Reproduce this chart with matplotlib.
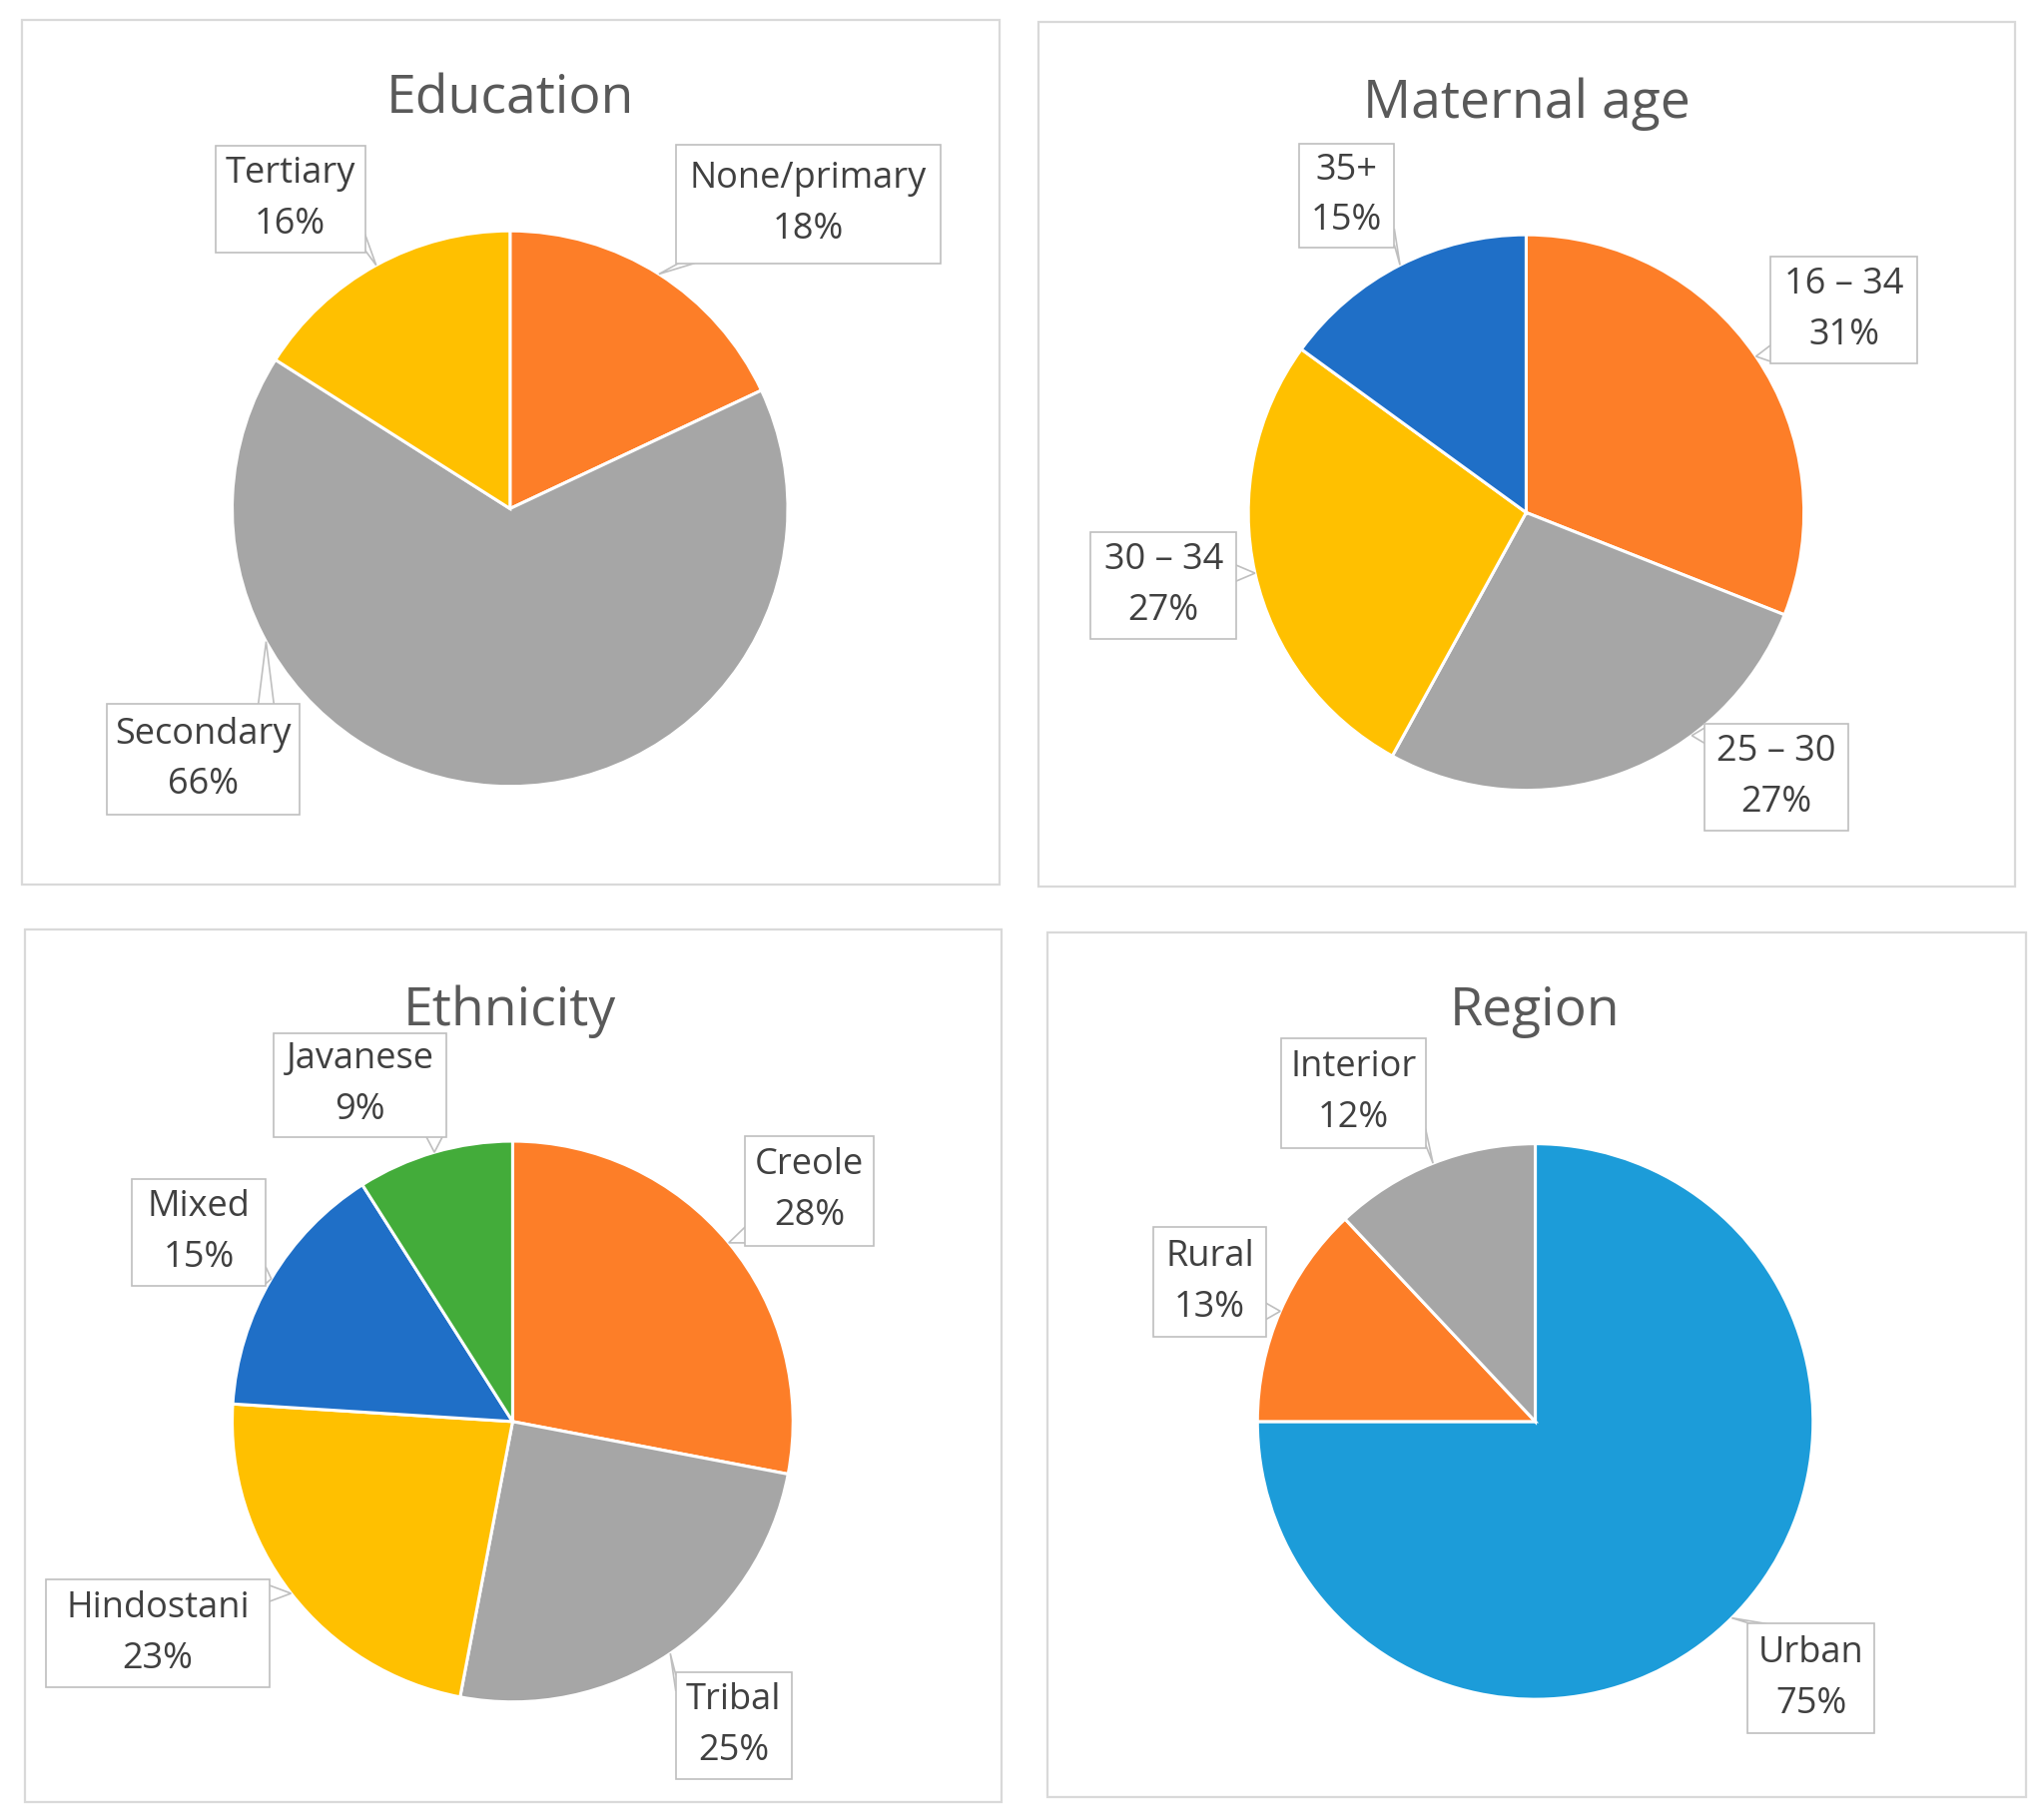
import matplotlib
matplotlib.use("Agg")
import matplotlib.pyplot as plt
from matplotlib.patches import Rectangle
import numpy as np

plt.rcParams["font.family"] = ["Open Sans", "DejaVu Sans"]

# data
edu_labels = ["None/primary", "Secondary", "Tertiary"]
edu_values = [18, 66, 16]
age_labels = ["16 \u2013 34", "25 \u2013 30", "30 \u2013 34", "35+"]
age_values = [31, 27, 27, 15]
eth_labels = ["Creole", "Tribal", "Hindostani", "Mixed", "Javanese"]
eth_values = [28, 25, 23, 15, 9]
reg_labels = ["Urban", "Rural", "Interior"]
reg_values = [75, 13, 12]

ORANGE = "#FD7E28"
GRAY = "#A6A6A6"
YELLOW = "#FFC000"
BLUE = "#1F6FC7"
GREEN = "#43AC3A"
SKY = "#1C9CD9"

# layout in reference units (y down)
W = 1567.0
H = 1822 * W / 2047


def fy(y):
    return H - y


panels = [
    dict(title="Education", labels=edu_labels, values=edu_values,
         colors=[ORANGE, GRAY, YELLOW],
         frame=(17, 15, 766, 678), title_pos=(391, 87),
         center=(391, 390), r=213,
         boxes=[(518, 111, 721, 202), (82, 540, 230, 625), (165, 112, 280, 194)],
         tip_angle={1: 208.6}),
    dict(title="Maternal age", labels=age_labels, values=age_values,
         colors=[ORANGE, GRAY, YELLOW, BLUE],
         frame=(796, 17, 1545, 680), title_pos=(1170, 90),
         center=(1170, 393), r=213,
         boxes=[(1357, 197, 1470, 279), (1307, 555, 1417, 637),
                (836, 408, 948, 490), (996, 110, 1069, 190)],
         tip_angle={1: -53.4}),
    dict(title="Ethnicity", labels=eth_labels, values=eth_values,
         colors=[ORANGE, GRAY, YELLOW, BLUE, GREEN],
         frame=(19, 713, 768, 1382), title_pos=(391, 786),
         center=(393, 1090), r=215,
         boxes=[(571, 871, 670, 955), (518, 1282, 607, 1364),
                (35, 1211, 207, 1294), (101, 904, 204, 986),
                (210, 792, 342, 872)],
         tip_angle={}),
    dict(title="Region", labels=reg_labels, values=reg_values,
         colors=[SKY, ORANGE, GRAY],
         frame=(803, 715, 1553, 1378), title_pos=(1177, 786),
         center=(1177, 1090), r=213,
         boxes=[(1340, 1245, 1437, 1329), (884, 941, 971, 1025),
                (982, 796, 1093, 880)],
         tip_angle={}),
]


def pointer(ax, box, tip):
    x0, y0, x1, y1 = box[0], fy(box[3]), box[2], fy(box[1])
    tx, ty = tip
    px = min(max(tx, x0), x1)
    py = min(max(ty, y0), y1)
    # pick the nearest side
    d = {"l": abs(tx - x0), "r": abs(tx - x1), "b": abs(ty - y0), "t": abs(ty - y1)}
    inside_x = x0 <= tx <= x1
    inside_y = y0 <= ty <= y1
    if inside_x and not inside_y:
        side = "b" if ty < y0 else "t"
    elif inside_y and not inside_x:
        side = "l" if tx < x0 else "r"
    else:
        side = min(d, key=d.get)
    hw = 6
    if side in ("b", "t"):
        yy = y0 if side == "b" else y1
        cx = min(max(px, x0 + hw + 2), x1 - hw - 2)
        b1, b2 = (cx - hw, yy), (cx + hw, yy)
    else:
        xx = x0 if side == "l" else x1
        cy = min(max(py, y0 + hw + 2), y1 - hw - 2)
        b1, b2 = (xx, cy - hw), (xx, cy + hw)
    ax.plot([b1[0], tx, b2[0]], [b1[1], ty, b2[1]], color="#BFBFBF",
            lw=1.2, zorder=4, solid_joinstyle="miter")


fig = plt.figure(figsize=(20.47, 18.22), dpi=100)
ax = fig.add_axes([0, 0, 1, 1])

for p in panels:
    fx0, fy0, fx1, fy1 = p["frame"]
    ax.add_patch(Rectangle((fx0, fy(fy1)), fx1 - fx0, fy1 - fy0, fill=False,
                           ec="#D9D9D9", lw=1.6, zorder=1))
    ax.text(p["title_pos"][0], fy(p["title_pos"][1]), p["title"], fontsize=38.5,
            color="#595959", ha="center", va="baseline", zorder=5)
    cx, cy = p["center"][0], fy(p["center"][1])
    r = p["r"]
    wedges, _ = ax.pie(p["values"], colors=p["colors"], startangle=90,
                       counterclock=False, center=(cx, cy), radius=r,
                       wedgeprops=dict(edgecolor="white", linewidth=2.2))
    for i, (w, lab, val, box) in enumerate(zip(wedges, p["labels"], p["values"], p["boxes"])):
        ang = p["tip_angle"].get(i, (w.theta1 + w.theta2) / 2)
        tip = (cx + r * np.cos(np.radians(ang)), cy + r * np.sin(np.radians(ang)))
        pointer(ax, box, tip)
        bx0, by0, bx1, by1 = box
        ax.add_patch(Rectangle((bx0, fy(by1)), bx1 - bx0, by1 - by0, fc="white",
                               ec="#BFBFBF", lw=1.2, zorder=5))
        ax.text((bx0 + bx1) / 2, fy((by0 + by1) / 2), f"{lab}\n{val}%",
                fontsize=26, color="#404040", ha="center", va="center",
                multialignment="center", linespacing=1.55, zorder=6)

ax.set_aspect("equal")
ax.set_xlim(0, W)
ax.set_ylim(0, H)
ax.axis("off")

fig.savefig("out.png", dpi=100, facecolor="white")
